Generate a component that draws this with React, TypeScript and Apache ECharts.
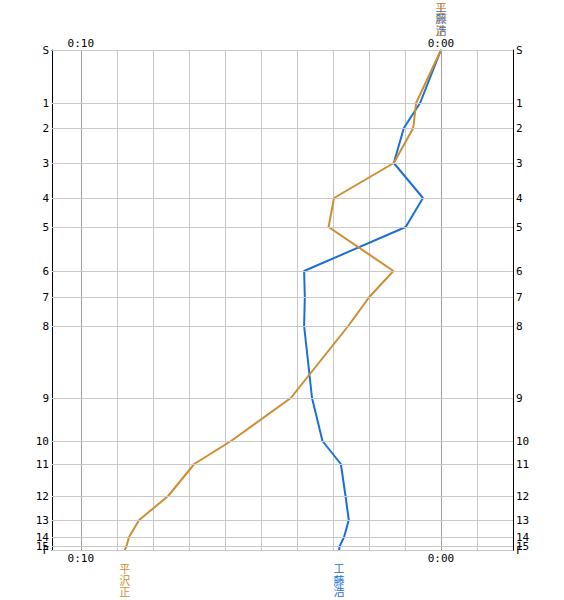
import React, { useEffect, useRef } from "react";
import * as echarts from "echarts";

const controlNames = ["S", "1", "2", "3", "4", "5", "6", "7", "8", "9", "10", "11", "12", "13", "14", "15", "F"];
// cumulative position of each control along the course
const controlOffsets = [0, 53, 78, 113, 148, 177, 221, 247, 276, 348, 391, 414, 446, 470, 487, 496, 500];
// minutes behind at each control
const kudoBehind = [0, 0.58, 1.03, 1.31, 0.5, 0.98, 3.8, 3.78, 3.8, 3.58, 3.29, 2.78, 2.65, 2.56, 2.69, 2.81, 2.83];
const hirasawaBehind = [0, 0.69, 0.77, 1.31, 2.97, 3.12, 1.32, 1.99, 2.575, 4.17, 5.83, 6.85, 7.575, 8.38, 8.66, 8.73, 8.78];
const runnerNames = ["工藤浩", "平沢正"];
const runnerColors = ["#1a6fd6", "#d08c30"];
const timeTicks = [0, 10];

const monoFont = "'DejaVu Sans Mono', monospace";
const cjkFont = "'Noto Sans CJK JP', sans-serif";

function fmtTime(v: number) {
  const m = Math.round(v);
  return "0:" + String(m).padStart(2, "0");
}

function vertical(s: string) {
  return s.split("").join("\n");
}

function buildSeries(name: string, color: string, values: number[]) {
  const n = values.length;
  const nameLabel = {
    show: true,
    formatter: vertical(name),
    color,
    fontFamily: cjkFont,
    fontSize: 11,
    lineHeight: 11.5,
    align: "center",
  };
  return {
    type: "line",
    name,
    symbol: "none",
    showSymbol: true,
    lineStyle: { color, width: 2 },
    itemStyle: { color },
    xAxisIndex: 0,
    yAxisIndex: 0,
    labelLayout: { hideOverlap: false },
    data: values.map((v, i) => {
      const item: any = { value: [v, controlOffsets[i]] };
      if (i === 0) {
        item.symbol = "circle";
        item.symbolSize = 1;
        item.label = { ...nameLabel, position: "top", distance: 14 };
      } else if (i === n - 1) {
        item.symbol = "circle";
        item.symbolSize = 1;
        item.label = { ...nameLabel, position: "bottom", distance: 12 };
      }
      return item;
    }),
    label: { show: false },
  };
}

export default function App() {
  const ref = useRef<HTMLDivElement>(null);
  useEffect(() => {
    if (!ref.current) return;
    const chart = echarts.init(ref.current, null, { renderer: "svg" });
    const splitColors = Array.from({ length: 10 }, (_, i) => (i === 2 ? "#a0a0a0" : "#c8c8c8"));
    const xAxisBase = {
      type: "value",
      inverse: true,
      min: -2,
      max: 10.8,
      interval: 1,
      gridIndex: 0,
      axisTick: { show: false },
      axisLine: { show: true, onZero: false, lineStyle: { color: "#000", width: 1 } },
      axisLabel: {
        customValues: timeTicks,
        formatter: (v: number) => fmtTime(v),
        fontFamily: monoFont,
        fontSize: 11,
        color: "#000",
        margin: 3,
      },
    };
    const labelFor = (v: number) => {
      const i = controlOffsets.indexOf(v);
      return i >= 0 ? controlNames[i] : "";
    };
    // control labels are split over three axis groups so that the closely
    // spaced 14 / 15 / F labels are all kept, as in the original
    const groups = [0, 1, 2].map((g) => controlOffsets.filter((_, i) => i % 3 === g));
    const yAxes: any[] = [];
    groups.forEach((vals, g) => {
      ["left", "right"].forEach((position) => {
        yAxes.push({
          type: "value",
          inverse: true,
          min: 0,
          max: 500,
          gridIndex: 0,
          position,
          splitLine: { show: false },
          axisTick: { show: false },
          axisLine: g === 0
            ? { show: true, onZero: false, lineStyle: { color: "#000", width: 1 } }
            : { show: false },
          axisLabel: {
            customValues: vals,
            formatter: labelFor,
            fontFamily: monoFont,
            fontSize: 11,
            color: "#000",
            margin: 3,
            hideOverlap: false,
            showMinLabel: true,
            showMaxLabel: true,
          },
        });
      });
    });
    chart.setOption({
      animation: false,
      backgroundColor: "#fff",
      grid: { left: 52, top: 50, width: 461, height: 500, containLabel: false },
      xAxis: [
        {
          ...xAxisBase,
          position: "bottom",
          splitLine: { show: true, lineStyle: { color: splitColors, width: 1 } },
        },
        {
          ...xAxisBase,
          position: "top",
          splitLine: { show: false },
          axisLabel: { ...xAxisBase.axisLabel, margin: 1 },
        },
      ],
      yAxis: yAxes,
      series: [
        {
          type: "line",
          data: [],
          xAxisIndex: 0,
          yAxisIndex: 0,
          silent: true,
          markLine: {
            silent: true,
            symbol: "none",
            label: { show: false },
            lineStyle: { color: "#c8c8c8", width: 1, type: "solid" },
            data: controlOffsets.map((v) => ({ yAxis: v })),
          },
        },
        buildSeries(runnerNames[0], runnerColors[0], kudoBehind),
        buildSeries(runnerNames[1], runnerColors[1], hirasawaBehind),
      ],
    });
    return () => chart.dispose();
  }, []);
  return (
    <div
      ref={ref}
      style={{ position: "absolute", left: 0, top: 0, width: 564, height: 600 }}
    />
  );
}
